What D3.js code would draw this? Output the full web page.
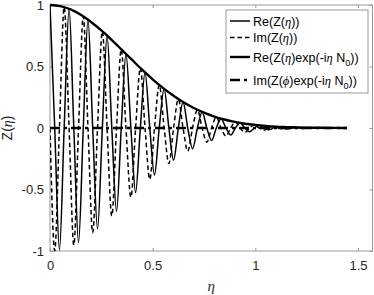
<!DOCTYPE html>
<html>
<head>
<meta charset="utf-8">
<script src="https://cdn.jsdelivr.net/npm/d3@7"></script>
<style>
  body { margin: 0; background: #fff; }
  svg { display: block; }
  .tick text { font-family: "Liberation Sans", Arial, sans-serif; font-size: 13px; fill: #262626; }
  .tick line { stroke: #9a9a9a; }
</style>
</head>
<body>
<svg id="svg" width="374" height="295"></svg>
<script>
var eta = [0, 0.023, 0.046, 0.069, 0.093, 0.116, 0.139, 0.162, 0.185, 0.208,
  0.2315, 0.255, 0.278, 0.301, 0.324, 0.347, 0.370, 0.394, 0.417, 0.440,
  0.463, 0.486, 0.509, 0.532, 0.556, 0.579, 0.602, 0.625, 0.648, 0.671,
  0.6945, 0.718, 0.741, 0.764, 0.787, 0.810, 0.833, 0.857, 0.880, 0.903,
  0.926, 0.949, 0.972, 0.995, 1.019, 1.042, 1.065, 1.088, 1.111, 1.134,
  1.1575, 1.181, 1.204, 1.227, 1.250, 1.30, 1.35, 1.40, 1.445];
var reZ = [1.000, 0, -0.992, 0, 0.969, 0, -0.931, 0, 0.881, 0,
  -0.820, 0, 0.751, 0, -0.678, 0, 0.602, 0, -0.526, 0,
  0.452, 0, -0.383, 0, 0.319, 0, -0.261, 0, 0.211, 0,
  -0.168, 0, 0.131, 0, -0.101, 0, 0.076, 0, -0.057, 0,
  0.042, 0, -0.030, 0, 0.021, 0, -0.015, 0, 0.010, 0,
  -0.007, 0, 0.005, 0, -0.003, 0, 0, 0, 0];
var imZ = [0, -0.998, 0, 0.982, 0, -0.952, 0, 0.907, 0, -0.851,
  0, 0.786, 0, -0.715, 0, 0.640, 0, -0.563, 0, 0.488,
  0, -0.417, 0, 0.350, 0, -0.289, 0, 0.235, 0, -0.188,
  0, 0.148, 0, -0.115, 0, 0.088, 0, -0.066, 0, 0.049,
  0, -0.036, 0, 0.026, 0, -0.018, 0, 0.013, 0, -0.009,
  0, 0.006, 0, -0.004, 0, 0, 0, 0, 0];

var envEta = [0, 0.05, 0.1, 0.15, 0.2, 0.25, 0.3, 0.35, 0.4, 0.45, 0.5, 0.55, 0.6, 0.65,
  0.7, 0.75, 0.8, 0.85, 0.9, 0.95, 1.0, 1.05, 1.1, 1.15, 1.2, 1.25, 1.3, 1.35, 1.4, 1.445];
var envRe = [1, 0.991, 0.964, 0.920, 0.862, 0.793, 0.717, 0.635, 0.553, 0.472, 0.396, 0.326,
  0.264, 0.209, 0.163, 0.125, 0.093, 0.069, 0.050, 0.035, 0.025, 0.017, 0.011, 0.0075,
  0.005, 0.003, 0.002, 0.001, 0.0007, 0.0004];
var envImEta = [0, 1.445];
var envIm = [0, 0];

var xTicks = [0, 0.5, 1, 1.5];
var yTicks = [-1, -0.5, 0, 0.5, 1];
var xLimits = [0, 1.5708];
var yLimits = [-1, 1];

var legendLabels = ["Re(Z(η))", "Im(Z(η))", "Re(Z(η)exp(-iη N", "Im(Z(ϕ)exp(-iη N"];

var svg = d3.select("#svg");
var axL = 50, axR = 372.5, axT = 5, axB = 251;

var x = d3.scaleLinear().domain(xLimits).range([axL, axR]);
var y = d3.scaleLinear().domain(yLimits).range([axB, axT]);

function fmt(d){ return String(d); }

// axes, ticks pointing inwards like matlab
svg.append("g").attr("transform", "translate(0," + axB + ")")
  .call(d3.axisBottom(x).tickValues(xTicks).tickFormat(fmt).tickSizeInner(-3).tickSizeOuter(0).tickPadding(10));
svg.append("g").attr("transform", "translate(0," + axT + ")")
  .call(d3.axisTop(x).tickValues(xTicks).tickFormat("").tickSizeInner(-3).tickSizeOuter(0));
svg.append("g").attr("transform", "translate(" + axL + ",0)")
  .call(d3.axisLeft(y).tickValues(yTicks).tickFormat(fmt).tickSizeInner(-3).tickSizeOuter(0).tickPadding(6));
svg.append("g").attr("transform", "translate(" + axR + ",0)")
  .call(d3.axisRight(y).tickValues(yTicks).tickFormat("").tickSizeInner(-3).tickSizeOuter(0));
svg.selectAll(".domain").remove();

svg.append("rect")
  .attr("x", axL).attr("y", axT)
  .attr("width", axR - axL).attr("height", axB - axT)
  .attr("fill", "none").attr("stroke", "#9a9a9a").attr("stroke-width", 1);

// axis labels
svg.append("text")
  .attr("x", (axL + axR) / 2).attr("y", 291)
  .attr("text-anchor", "middle")
  .style("font-family", "'Liberation Serif', serif").style("font-style", "italic")
  .style("font-size", "15px").style("fill", "#262626")
  .text("η");

svg.append("text")
  .attr("transform", "translate(12," + ((axT + axB) / 2) + ") rotate(-90)")
  .attr("text-anchor", "middle")
  .style("font-family", "'Liberation Sans', Arial, sans-serif")
  .style("font-size", "14px").style("fill", "#262626")
  .call(function(t){
    t.append("tspan").text("Z(");
    t.append("tspan").style("font-family", "'Liberation Serif', serif").style("font-style", "italic").text("η");
    t.append("tspan").text(")");
  });

var line = d3.line()
  .x(function(d){ return x(d[0]); })
  .y(function(d){ return y(d[1]); })
  .curve(d3.curveMonotoneX);

var series = [
  {xs: eta, ys: reZ, width: 1.5, dash: null},
  {xs: eta, ys: imZ, width: 1.5, dash: "4.5,3"},
  {xs: envEta, ys: envRe, width: 2.4, dash: null},
  {xs: envImEta, ys: envIm, width: 2.4, dash: "10,4,3,4"}
];

svg.append("clipPath").attr("id", "clip")
  .append("rect").attr("x", axL).attr("y", axT - 2).attr("width", axR - axL).attr("height", axB - axT + 4);

var plot = svg.append("g").attr("clip-path", "url(#clip)");
series.forEach(function(s){
  var pts = s.xs.map(function(v, i){ return [v, s.ys[i]]; });
  plot.append("path")
    .attr("d", line(pts))
    .attr("fill", "none")
    .attr("stroke", "#000")
    .attr("stroke-width", s.width)
    .attr("stroke-dasharray", s.dash);
});

// legend
var lg = svg.append("g");
lg.append("rect")
  .attr("x", 226).attr("y", 10).attr("width", 142).attr("height", 83)
  .attr("fill", "#fff").attr("stroke", "#9a9a9a").attr("stroke-width", 1);

var rowLine = [21, 37.5, 57, 80];
var rowBase = [25.5, 42, 61.5, 84.5];

series.forEach(function(s, i){
  lg.append("line")
    .attr("x1", 230).attr("x2", 250)
    .attr("y1", rowLine[i]).attr("y2", rowLine[i])
    .attr("stroke", "#000").attr("stroke-width", s.width)
    .attr("stroke-dasharray", s.dash);

  var t = lg.append("text")
    .attr("x", 253).attr("y", rowBase[i])
    .style("font-family", "'Liberation Sans', Arial, sans-serif")
    .style("font-size", "12.5px").style("fill", "#000");
  var parts = legendLabels[i].split(/([ηϕ])/);
  parts.forEach(function(p){
    if (p === "η" || p === "ϕ")
      t.append("tspan").style("font-family", "'Liberation Serif', serif").style("font-style", "italic").text(p);
    else if (p !== "")
      t.append("tspan").text(p);
  });
  if (i >= 2) {
    t.append("tspan").attr("dy", 4).style("font-size", "9px").text("0");
    t.append("tspan").attr("dy", -4).text("))");
  }
});
</script>
</body>
</html>
